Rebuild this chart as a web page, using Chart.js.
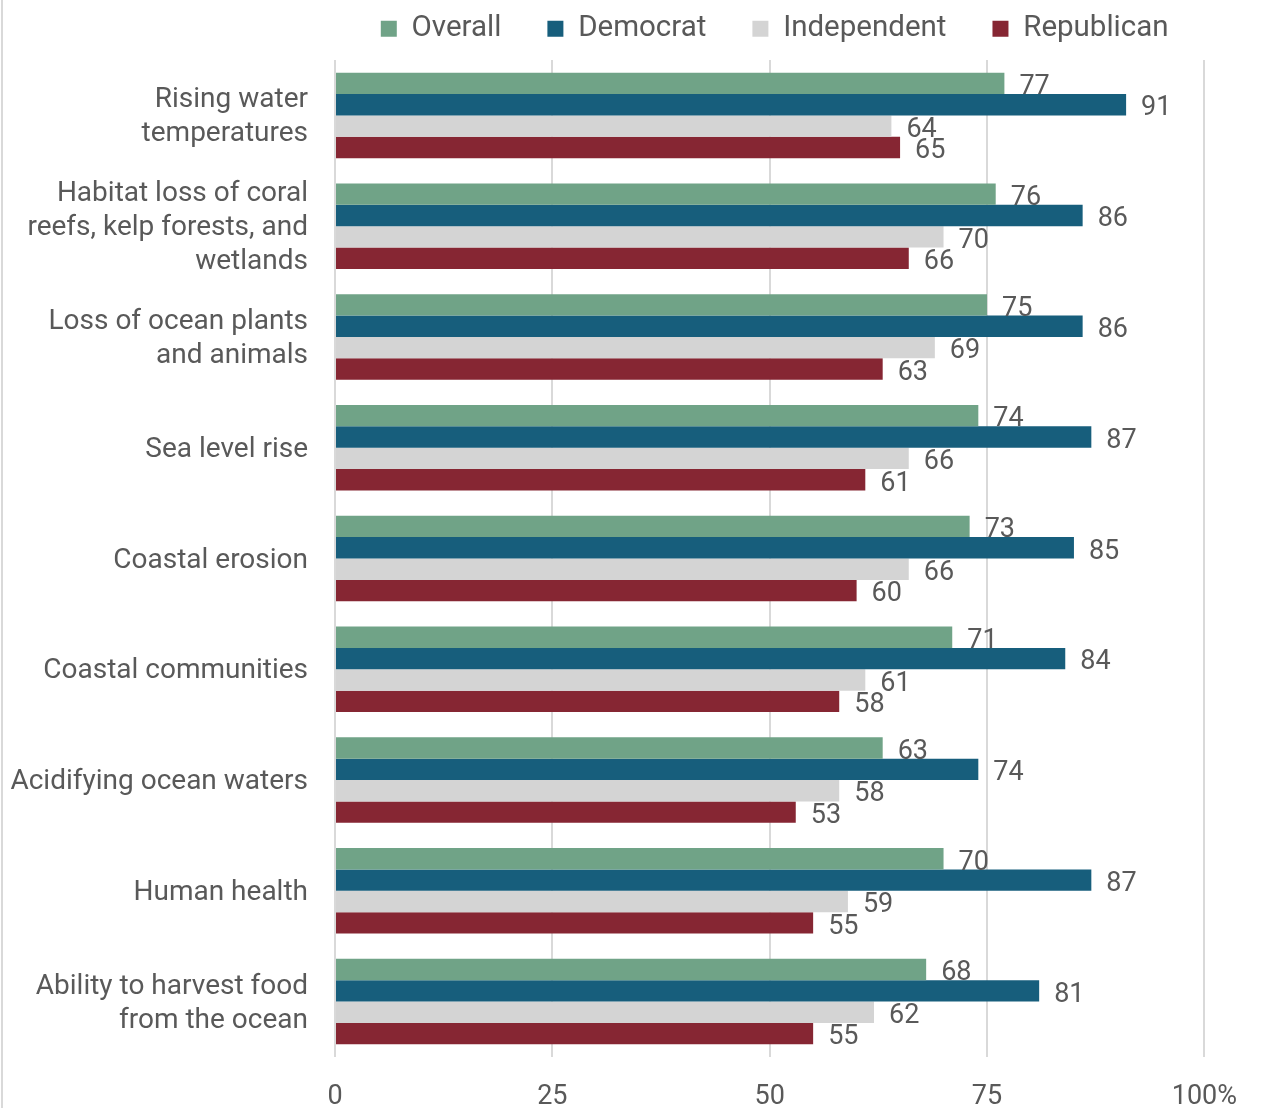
<!DOCTYPE html>
<html>
<head>
<meta charset="utf-8">
<script src="https://cdn.jsdelivr.net/npm/chart.js@4.4.1/dist/chart.umd.min.js"></script>
<style>
  html, body { margin: 0; padding: 0; background: #ffffff; }
  #wrap { position: relative; width: 1261px; height: 1108px; }
</style>
</head>
<body>
<div id="wrap"><canvas id="chart" width="1261" height="1108"></canvas></div>
<script>
// Concern about ocean impacts, by party (percent)
const categories = [
  ["Rising water", "temperatures"],
  ["Habitat loss of coral", "reefs, kelp forests, and", "wetlands"],
  ["Loss of ocean plants", "and animals"],
  "Sea level rise",
  "Coastal erosion",
  "Coastal communities",
  "Acidifying ocean waters",
  "Human health",
  ["Ability to harvest food", "from the ocean"]
];
const overall     = [77, 76, 75, 74, 73, 71, 63, 70, 68];
const democrat    = [91, 86, 86, 87, 85, 84, 74, 87, 81];
const independent = [64, 70, 69, 66, 66, 61, 58, 59, 62];
const republican  = [65, 66, 63, 61, 60, 58, 53, 55, 55];

const seriesNames  = ["Overall", "Democrat", "Independent", "Republican"];
const seriesColors = ["#70a387", "#175e7c", "#d4d4d4", "#862633"];
const tickValues   = [0, 25, 50, 75, 100];
const tickLabels   = ["0", "25", "50", "75", "100%"];

const TEXT = "#595959";
const GRID = "#d9d9d9";
const FONT = "Roboto, 'Noto Sans', sans-serif";

// Value labels written just past the end of each bar
const valueLabels = {
  id: "valueLabels",
  afterDatasetsDraw(chart) {
    const ctx = chart.ctx;
    ctx.save();
    ctx.font = "27px " + FONT;
    ctx.fillStyle = TEXT;
    ctx.textAlign = "left";
    ctx.textBaseline = "middle";
    chart.data.datasets.forEach((ds, di) => {
      const meta = chart.getDatasetMeta(di);
      meta.data.forEach((bar, i) => {
        ctx.fillText(String(ds.data[i]), bar.x + 15, bar.y + 4);
      });
    });
    ctx.restore();
  }
};

// Thin frame line on the left edge of the figure
const frameLine = {
  id: "frameLine",
  beforeDraw(chart) {
    const ctx = chart.ctx;
    ctx.save();
    ctx.strokeStyle = GRID;
    ctx.lineWidth = 2;
    ctx.beginPath();
    ctx.moveTo(2, 0);
    ctx.lineTo(2, chart.height);
    ctx.stroke();
    ctx.restore();
  }
};

// Keeps the wide-spaced legend in a compact strip above the plot,
// centred over the plot area
const legendStrip = {
  id: "legendStrip",
  beforeLayout(chart) {
    const lg = chart.legend;
    if (!lg || lg._stripPatched) return;
    lg._stripPatched = true;
    const fit = lg.fit;
    lg.fit = function () {
      fit.call(this);
      this.height = 60;
    };
    lg.draw = function () {
      if (!this.options.display) return;
      const area = chart.chartArea;
      const dx = (area.left + area.right) / 2 - (this.left + this.right) / 2 + 5;
      const c = this.ctx;
      c.save();
      c.translate(dx, -32);
      this._draw();
      c.restore();
    };
  }
};

const datasets = [overall, democrat, independent, republican].map((values, k) => ({
  label: seriesNames[k],
  data: values,
  backgroundColor: seriesColors[k],
  borderWidth: 0,
  categoryPercentage: 0.772,
  barPercentage: 1.0
}));

new Chart(document.getElementById("chart"), {
  type: "bar",
  data: { labels: categories, datasets },
  plugins: [frameLine, legendStrip, valueLabels],
  options: {
    indexAxis: "y",
    responsive: false,
    animation: false,
    devicePixelRatio: 1,
    layout: { padding: { top: 0, right: 54, bottom: 0, left: 0 } },
    plugins: {
      legend: {
        position: "top",
        align: "center",
        labels: {
          boxWidth: 16,
          boxHeight: 16,
          padding: 46,
          color: TEXT,
          font: { family: FONT, size: 29.5 }
        }
      },
      tooltip: { enabled: false }
    },
    scales: {
      x: {
        type: "linear",
        min: 0,
        max: 100,
        afterBuildTicks(scale) {
          scale.ticks = tickValues.map(v => ({ value: v }));
        },
        afterFit(scale) { scale.height = 51; },
        grid: { color: GRID, lineWidth: 2, drawTicks: false },
        border: { display: false },
        ticks: {
          padding: 24,
          color: TEXT,
          font: { family: FONT, size: 27 },
          maxRotation: 0,
          callback(value) {
            const i = tickValues.indexOf(value);
            return i >= 0 ? tickLabels[i] : "";
          }
        }
      },
      y: {
        afterFit(scale) {
          scale.width = 335;
          scale.paddingTop = 0;
          scale.paddingBottom = 0;
        },
        grid: { display: false, drawTicks: false },
        border: { display: false },
        ticks: {
          padding: 27,
          labelOffset: 2,
          color: TEXT,
          font: { family: FONT, size: 28, lineHeight: 1.22 }
        }
      }
    }
  }
});
</script>
</body>
</html>
